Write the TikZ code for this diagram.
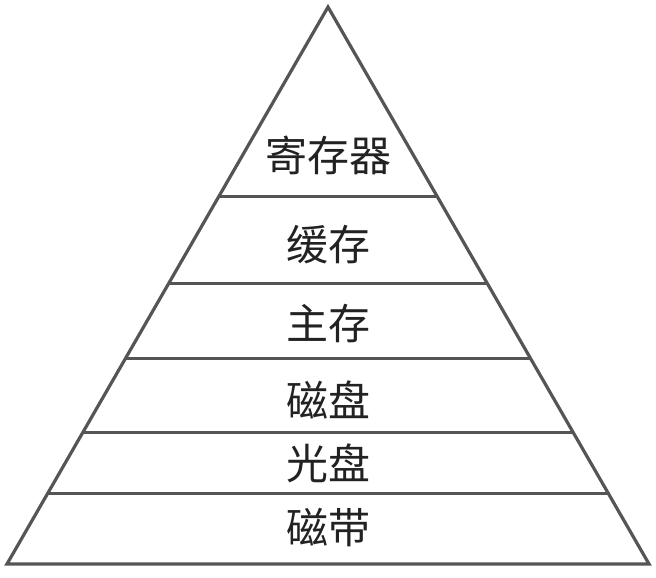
\documentclass[tikz,border=0pt]{standalone}
\usepackage{fontspec}
\newfontfamily\cjk{Noto Sans CJK SC}
\usetikzlibrary{calc}
\definecolor{edge}{HTML}{555555}
\definecolor{ink}{HTML}{222222}
\tikzset{
  frame/.style={draw=edge, line width=3.2pt, line join=miter},
  tier/.style={draw=edge, line width=3.2pt},
  lbl/.style={font=\cjk\fontsize{42}{44}\selectfont, text=ink, inner sep=0pt, anchor=center}
}
\begin{document}
\begin{tikzpicture}[x=1pt,y=-1pt]
\useasboundingbox (0,0) rectangle (656,578);
\coordinate (A) at (328,7);
\coordinate (L) at (7,564);
\coordinate (R) at (649,564);
\draw[frame] (A) -- (L) -- (R) -- cycle;
\foreach \t [count=\i] in {0.3405,0.4964,0.6308,0.7634,0.8728}{
  \coordinate (l\i) at ($(A)!\t!(L)$);
  \coordinate (r\i) at ($(A)!\t!(R)$);
  \draw[tier] (l\i) -- (r\i);
}
\node[lbl] (n1) at (328,155) {寄存器};
\node[lbl] (n2) at (328,245) {缓存};
\node[lbl] (n3) at (328,324) {主存};
\node[lbl] (n4) at (328,400) {磁盘};
\node[lbl] (n5) at (328,463) {光盘};
\node[lbl] (n6) at (328,528) {磁带};
\end{tikzpicture}
\end{document}
